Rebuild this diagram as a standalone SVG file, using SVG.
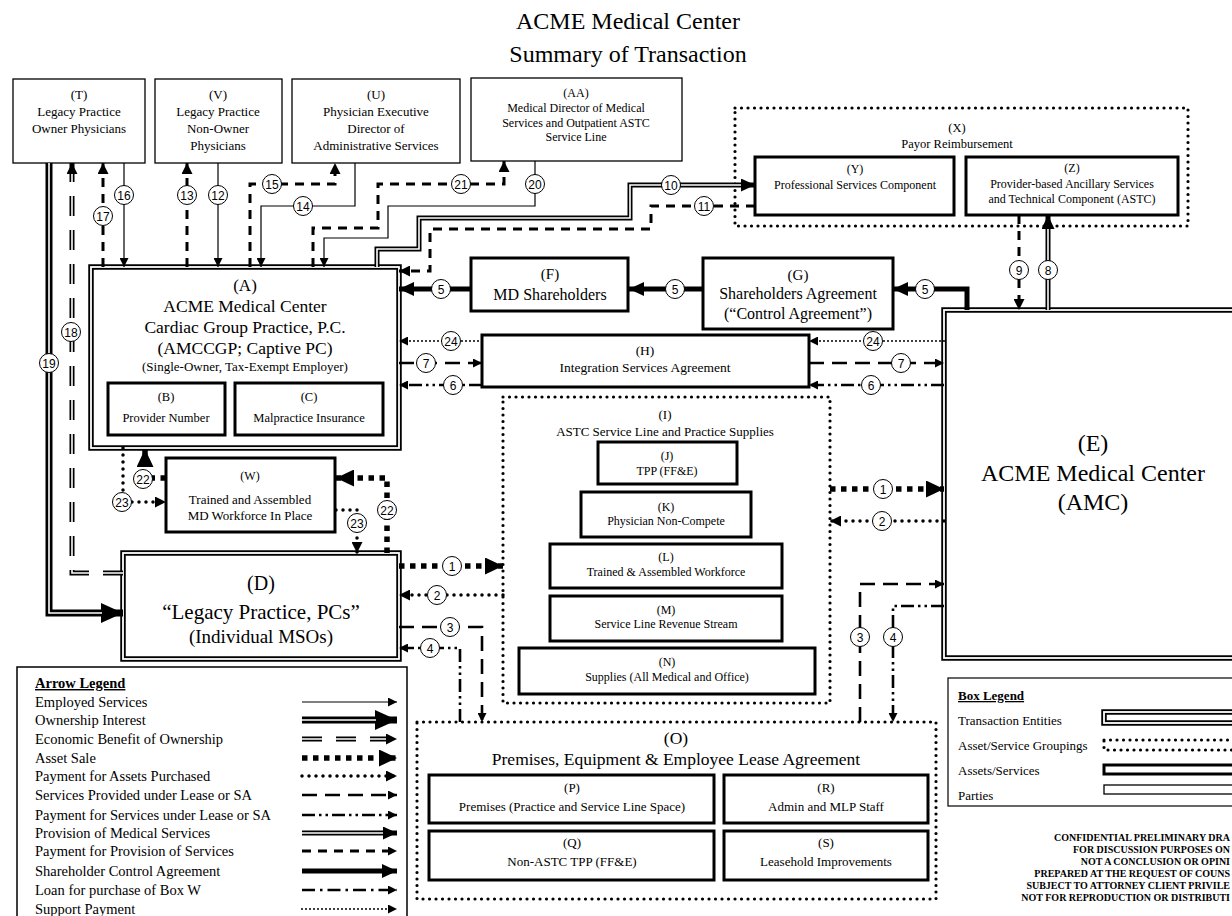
<svg xmlns="http://www.w3.org/2000/svg" width="1232" height="916" viewBox="0 0 1232 916">
<style>
text{font-family:"Liberation Serif","Times New Roman",serif;text-anchor:middle;fill:#000}
.n{font-family:"Liberation Sans",Arial,sans-serif;font-size:12px}
.lg{text-anchor:start;font-size:14.5px}
.bl{text-anchor:start;font-size:13px}
.cf{font-weight:bold;font-size:10px;text-anchor:end}
.party{fill:#fff;stroke:#000;stroke-width:1.3}
.asset{fill:#fff;stroke:#000;stroke-width:3}
.grp{fill:none;stroke:#000;stroke-width:3.2;stroke-dasharray:0 6.5;stroke-linecap:round}
.ent{fill:#fff;stroke:#000;stroke-width:5.5}
.entw{fill:none;stroke:#fff;stroke-width:1.8}
.nc{fill:#fff;stroke:#000;stroke-width:1}
.cn path{fill:none;stroke:#000}
.cn path.w{stroke:#fff}
.thin{stroke-width:1.2}
.pp{stroke-width:3;stroke-dasharray:9 7}
.ctl{stroke-width:5}
.sup{stroke-width:2;stroke-dasharray:0 4;stroke-linecap:round}
.pa{stroke-width:3.5;stroke-dasharray:0 7;stroke-linecap:round}
.as{stroke-width:5.5;stroke-dasharray:5.5 5.5}
.sl{stroke-width:2.6;stroke-dasharray:15 8}
.pl{stroke-width:2.6;stroke-dasharray:13 4 2.5 4 2.5 4}
.ln{stroke-width:2.6;stroke-dasharray:13 5 2.5 5}
.med{stroke-width:5}
.medw{stroke-width:1.6}
.own{stroke-width:7}
.ownw{stroke-width:1.6}
.ec{stroke-width:5;stroke-dasharray:20 14}
.ecw{stroke-width:1.6;stroke-dasharray:20 14}
</style>
<defs>
<marker id="ms" viewBox="0 0 10 10" refX="10" refY="5" markerWidth="9" markerHeight="9" markerUnits="userSpaceOnUse" orient="auto" preserveAspectRatio="none"><path d="M0,0L10,5L0,10z"/></marker>
<marker id="mm" viewBox="0 0 10 10" refX="10" refY="5" markerWidth="11" markerHeight="11" markerUnits="userSpaceOnUse" orient="auto" preserveAspectRatio="none"><path d="M0,0L10,5L0,10z"/></marker>
<marker id="mc" viewBox="0 0 10 10" refX="10" refY="5" markerWidth="15" markerHeight="14" markerUnits="userSpaceOnUse" orient="auto" preserveAspectRatio="none"><path d="M0,0L10,5L0,10z"/></marker>
<marker id="mas" viewBox="0 0 10 10" refX="10" refY="5" markerWidth="18" markerHeight="17" markerUnits="userSpaceOnUse" orient="auto" preserveAspectRatio="none"><path d="M0,0L10,5L0,10z"/></marker>
<marker id="mown" viewBox="0 0 10 10" refX="10" refY="5" markerWidth="22" markerHeight="20" markerUnits="userSpaceOnUse" orient="auto" preserveAspectRatio="none"><path d="M0,0L10,5L0,10z"/></marker>
<marker id="mmed" viewBox="0 0 10 10" refX="10" refY="5" markerWidth="14" markerHeight="13" markerUnits="userSpaceOnUse" orient="auto" preserveAspectRatio="none"><path d="M0,0L10,5L0,10z"/></marker>
</defs>
<rect width="1232" height="916" fill="#fff"/>
<g id="title">
<text x="628" y="29" font-size="24">ACME Medical Center</text>
<text x="628" y="62" font-size="24">Summary of Transaction</text>
</g>
<g id="node-X"><rect class="grp" x="735" y="108" width="453" height="118"/><text x="957" y="132" font-size="12.5">(X)</text><text x="957" y="148" font-size="12.5">Payor Reimbursement</text></g>
<g id="node-I"><rect class="grp" x="503" y="397" width="327" height="306"/><text x="665" y="419" font-size="13">(I)</text><text x="665" y="436" font-size="13">ASTC Service Line and Practice Supplies</text></g>
<g id="node-O"><rect class="grp" x="417" y="722" width="519" height="177"/><text x="676" y="744" font-size="17.5">(O)</text><text x="676" y="765" font-size="17.5">Premises, Equipment &amp; Employee Lease Agreement</text></g>
<g id="node-T"><rect class="party" x="13" y="79" width="132" height="84"/><text x="79" y="99" font-size="13">(T)</text><text x="79" y="116" font-size="13">Legacy Practice</text><text x="79" y="133" font-size="13">Owner Physicians</text></g>
<g id="node-V"><rect class="party" x="155" y="79" width="127" height="84"/><text x="218" y="99" font-size="13">(V)</text><text x="218" y="116" font-size="13">Legacy Practice</text><text x="218" y="133" font-size="13">Non-Owner</text><text x="218" y="150" font-size="13">Physicians</text></g>
<g id="node-U"><rect class="party" x="292" y="79" width="168" height="84"/><text x="376" y="99" font-size="13">(U)</text><text x="376" y="116" font-size="13">Physician Executive</text><text x="376" y="133" font-size="13">Director of</text><text x="376" y="150" font-size="13">Administrative Services</text></g>
<g id="node-AA"><rect class="party" x="471" y="78" width="211" height="83"/><text x="576" y="97" font-size="12">(AA)</text><text x="576" y="112" font-size="12">Medical Director of Medical</text><text x="576" y="127" font-size="12">Services and Outpatient ASTC</text><text x="576" y="141" font-size="12">Service Line</text></g>
<g id="node-Y"><rect class="asset" x="755" y="157" width="199" height="58"/><text x="855" y="173" font-size="12">(Y)</text><text x="855" y="189" font-size="12">Professional Services Component</text></g>
<g id="node-Z"><rect class="asset" x="966" y="157" width="212" height="58"/><text x="1072" y="172" font-size="12">(Z)</text><text x="1072" y="188" font-size="12">Provider-based Ancillary Services</text><text x="1072" y="203" font-size="12">and Technical Component (ASTC)</text></g>
<g id="node-A"><rect class="ent" x="91" y="267" width="308" height="181"/><rect class="entw" x="91" y="267" width="308" height="181"/><text x="245" y="291" font-size="17">(A)</text><text x="245" y="312" font-size="17.5">ACME Medical Center</text><text x="245" y="333" font-size="17.5">Cardiac Group Practice, P.C.</text><text x="245" y="354" font-size="17.5">(AMCCGP; Captive PC)</text><text x="245" y="371" font-size="13">(Single-Owner,  Tax-Exempt Employer)</text></g>
<g id="node-B"><rect class="asset" x="108" y="383" width="117" height="52"/><text x="166" y="401" font-size="12.5">(B)</text><text x="166" y="422" font-size="12.5">Provider Number</text></g>
<g id="node-C"><rect class="asset" x="235" y="383" width="148" height="52"/><text x="309" y="401" font-size="12.5">(C)</text><text x="309" y="422" font-size="12.5">Malpractice Insurance</text></g>
<g id="node-F"><rect class="asset" x="471" y="258" width="157" height="53"/><text x="550" y="279" font-size="15">(F)</text><text x="550" y="300" font-size="16">MD Shareholders</text></g>
<g id="node-G"><rect class="asset" x="703" y="258" width="190" height="71"/><text x="798" y="280" font-size="15">(G)</text><text x="798" y="299" font-size="16">Shareholders Agreement</text><text x="798" y="319" font-size="16">(“Control Agreement”)</text></g>
<g id="node-H"><rect class="asset" x="482" y="335" width="327" height="52"/><text x="645" y="355" font-size="13.5">(H)</text><text x="645" y="372" font-size="13.5">Integration Services Agreement</text></g>
<g id="node-E"><rect class="ent" x="944" y="310" width="330" height="348"/><rect class="entw" x="944" y="310" width="330" height="348"/><text x="1093" y="451" font-size="24">(E)</text><text x="1093" y="481" font-size="24">ACME Medical Center</text><text x="1093" y="510" font-size="24">(AMC)</text></g>
<g id="node-J"><rect class="asset" x="598" y="442" width="139" height="42"/><text x="667" y="460" font-size="12">(J)</text><text x="667" y="475" font-size="12">TPP (FF&amp;E)</text></g>
<g id="node-K"><rect class="asset" x="581" y="492" width="170" height="45"/><text x="666" y="511" font-size="12">(K)</text><text x="666" y="525" font-size="12">Physician Non-Compete</text></g>
<g id="node-L"><rect class="asset" x="550" y="544" width="232" height="44"/><text x="666" y="561" font-size="12">(L)</text><text x="666" y="576" font-size="12">Trained &amp; Assembled Workforce</text></g>
<g id="node-M"><rect class="asset" x="550" y="596" width="232" height="45"/><text x="666" y="614" font-size="12">(M)</text><text x="666" y="628" font-size="12">Service Line Revenue Stream</text></g>
<g id="node-N"><rect class="asset" x="519" y="648" width="296" height="46"/><text x="667" y="666" font-size="12">(N)</text><text x="667" y="681" font-size="12">Supplies (All Medical and Office)</text></g>
<g id="node-W"><rect class="asset" x="166" y="458" width="169" height="74"/><text x="250" y="480" font-size="12">(W)</text><text x="250" y="504" font-size="13">Trained and Assembled</text><text x="250" y="520" font-size="13">MD Workforce In Place</text></g>
<g id="node-D"><rect class="ent" x="123" y="553" width="276" height="106"/><rect class="entw" x="123" y="553" width="276" height="106"/><text x="261" y="590" font-size="20">(D)</text><text x="261" y="619" font-size="21">“Legacy Practice, PCs”</text><text x="261" y="643" font-size="19">(Individual MSOs)</text></g>
<g id="node-P"><rect class="asset" x="429" y="775" width="285" height="48"/><text x="572" y="792" font-size="13">(P)</text><text x="572" y="811" font-size="13">Premises (Practice and Service Line Space)</text></g>
<g id="node-R"><rect class="asset" x="724" y="775" width="204" height="48"/><text x="826" y="792" font-size="13">(R)</text><text x="826" y="811" font-size="13">Admin and MLP Staff</text></g>
<g id="node-Q"><rect class="asset" x="429" y="831" width="285" height="49"/><text x="572" y="847" font-size="13">(Q)</text><text x="572" y="866" font-size="13">Non-ASTC TPP (FF&amp;E)</text></g>
<g id="node-S"><rect class="asset" x="724" y="831" width="204" height="49"/><text x="826" y="847" font-size="13">(S)</text><text x="826" y="866" font-size="13">Leasehold Improvements</text></g>

<g id="connectors" class="cn">
<path class="thin" d="M124,163V267" marker-end="url(#ms)"/>
<path class="pp" d="M103,267V163" marker-end="url(#mm)"/>
<path class="pp" d="M187,267V163" marker-end="url(#mm)"/>
<path class="thin" d="M218,163V267" marker-end="url(#ms)"/>
<path class="pp" d="M250,267V184H335V163" marker-end="url(#mm)"/>
<path class="thin" d="M355,163V206H261V267" marker-end="url(#ms)"/>
<path class="pp" d="M313,267V228H378V184H504V161" marker-end="url(#mm)"/>
<path class="thin" d="M535,161V206H388V238H324V267" marker-end="url(#ms)"/>
<path class="med" d="M377,267V249H419V218H630V185H755" marker-end="url(#mmed)"/>
<path class="w medw" d="M377,267V249H419V218H630V185H741"/>
<path class="pp" d="M755,206H651V229H430V271H399" marker-end="url(#mm)"/>
<path class="ec" d="M123,573H72V163" marker-end="url(#mm)"/>
<path class="w ecw" d="M123,573H72V174"/>
<path class="own" d="M49,163V613H123" marker-end="url(#mown)"/>
<path class="w ownw" d="M49,163V613H102"/>
<path class="ctl" d="M471,289H399" marker-end="url(#mc)"/>
<path class="ctl" d="M703,289H629" marker-end="url(#mc)"/>
<path class="ctl" d="M967,310V289H893" marker-end="url(#mc)"/>
<path class="sup" d="M482,341H399" marker-end="url(#ms)"/>
<path class="sup" d="M944,341H809" marker-end="url(#ms)"/>
<path class="sl" d="M399,363H482" marker-end="url(#ms)"/>
<path class="sl" d="M809,363H944" marker-end="url(#ms)"/>
<path class="pl" d="M482,385H399" marker-end="url(#ms)"/>
<path class="pl" d="M944,385H809" marker-end="url(#ms)"/>
<path class="as" d="M166,478H145V449" marker-end="url(#mas)"/>
<path class="pa" d="M123,448V502H166" marker-end="url(#mm)"/>
<path class="as" d="M387,553V478H336" marker-end="url(#mas)"/>
<path class="pa" d="M336,510H357V553" marker-end="url(#mm)"/>
<path class="as" d="M399,566H503" marker-end="url(#mas)"/>
<path class="pa" d="M503,595H399" marker-end="url(#mm)"/>
<path class="sl" d="M399,627H482V722" marker-end="url(#ms)"/>
<path class="pl" d="M460,722V648H399" marker-end="url(#ms)"/>
<path class="as" d="M830,489H944" marker-end="url(#mas)"/>
<path class="pa" d="M944,521H830" marker-end="url(#mm)"/>
<path class="sl" d="M860,722V584H944" marker-end="url(#ms)"/>
<path class="pl" d="M944,606H893V722" marker-end="url(#ms)"/>
<path class="pp" d="M1019,215V310" marker-end="url(#mm)"/>
<path class="med" d="M1048,310V215" marker-end="url(#mmed)"/>
<path class="w medw" d="M1048,310V229"/>
</g>
<g id="labels">
<circle class="nc" cx="124" cy="195" r="9.5"/><text class="n" x="124" y="199.5">16</text>
<circle class="nc" cx="103" cy="216" r="9.5"/><text class="n" x="103" y="220.5">17</text>
<circle class="nc" cx="187" cy="195" r="9.5"/><text class="n" x="187" y="199.5">13</text>
<circle class="nc" cx="218" cy="195" r="9.5"/><text class="n" x="218" y="199.5">12</text>
<circle class="nc" cx="272" cy="184" r="9.5"/><text class="n" x="272" y="188.5">15</text>
<circle class="nc" cx="303" cy="206" r="9.5"/><text class="n" x="303" y="210.5">14</text>
<circle class="nc" cx="461" cy="184" r="9.5"/><text class="n" x="461" y="188.5">21</text>
<circle class="nc" cx="535" cy="184" r="9.5"/><text class="n" x="535" y="188.5">20</text>
<circle class="nc" cx="671" cy="185" r="9.5"/><text class="n" x="671" y="189.5">10</text>
<circle class="nc" cx="704" cy="206" r="9.5"/><text class="n" x="704" y="210.5">11</text>
<circle class="nc" cx="71" cy="332" r="9.5"/><text class="n" x="71" y="336.5">18</text>
<circle class="nc" cx="49" cy="363" r="9.5"/><text class="n" x="49" y="367.5">19</text>
<circle class="nc" cx="441" cy="289" r="9.5"/><text class="n" x="441" y="293.5">5</text>
<circle class="nc" cx="675" cy="289" r="9.5"/><text class="n" x="675" y="293.5">5</text>
<circle class="nc" cx="925" cy="289" r="9.5"/><text class="n" x="925" y="293.5">5</text>
<circle class="nc" cx="451" cy="341" r="9.5"/><text class="n" x="451" y="345.5">24</text>
<circle class="nc" cx="873" cy="341" r="9.5"/><text class="n" x="873" y="345.5">24</text>
<circle class="nc" cx="426" cy="363" r="9.5"/><text class="n" x="426" y="367.5">7</text>
<circle class="nc" cx="901" cy="363" r="9.5"/><text class="n" x="901" y="367.5">7</text>
<circle class="nc" cx="453" cy="385" r="9.5"/><text class="n" x="453" y="389.5">6</text>
<circle class="nc" cx="871" cy="385" r="9.5"/><text class="n" x="871" y="389.5">6</text>
<circle class="nc" cx="143" cy="479" r="9.5"/><text class="n" x="143" y="483.5">22</text>
<circle class="nc" cx="122" cy="502" r="9.5"/><text class="n" x="122" y="506.5">23</text>
<circle class="nc" cx="387" cy="510" r="9.5"/><text class="n" x="387" y="514.5">22</text>
<circle class="nc" cx="357" cy="523" r="9.5"/><text class="n" x="357" y="527.5">23</text>
<circle class="nc" cx="452" cy="566" r="9.5"/><text class="n" x="452" y="570.5">1</text>
<circle class="nc" cx="437" cy="595" r="9.5"/><text class="n" x="437" y="599.5">2</text>
<circle class="nc" cx="450" cy="627" r="9.5"/><text class="n" x="450" y="631.5">3</text>
<circle class="nc" cx="430" cy="648" r="9.5"/><text class="n" x="430" y="652.5">4</text>
<circle class="nc" cx="883" cy="489" r="9.5"/><text class="n" x="883" y="493.5">1</text>
<circle class="nc" cx="882" cy="521" r="9.5"/><text class="n" x="882" y="525.5">2</text>
<circle class="nc" cx="860" cy="637" r="9.5"/><text class="n" x="860" y="641.5">3</text>
<circle class="nc" cx="893" cy="637" r="9.5"/><text class="n" x="893" y="641.5">4</text>
<circle class="nc" cx="1019" cy="270" r="9.5"/><text class="n" x="1019" y="274.5">9</text>
<circle class="nc" cx="1048" cy="270" r="9.5"/><text class="n" x="1048" y="274.5">8</text>
</g>
<g id="arrow-legend">
<rect x="17" y="667" width="390" height="270" fill="#fff" stroke="#000" stroke-width="1.5"/>
<text class="lg" x="35" y="688" font-weight="bold" text-decoration="underline">Arrow Legend</text>
<text class="lg" x="35" y="707">Employed Services</text>
<text class="lg" x="35" y="725">Ownership Interest</text>
<text class="lg" x="35" y="744">Economic Benefit of Ownership</text>
<text class="lg" x="35" y="763">Asset Sale</text>
<text class="lg" x="35" y="781">Payment for Assets Purchased</text>
<text class="lg" x="35" y="800">Services Provided under Lease or SA</text>
<text class="lg" x="35" y="820">Payment for Services under Lease or SA</text>
<text class="lg" x="35" y="838">Provision of Medical Services</text>
<text class="lg" x="35" y="856">Payment for Provision of Services</text>
<text class="lg" x="35" y="876">Shareholder Control Agreement</text>
<text class="lg" x="35" y="895">Loan for purchase of Box W</text>
<text class="lg" x="35" y="914">Support Payment</text>
<g class="cn">
<path class="thin" d="M302,702H397" marker-end="url(#ms)"/>
<path class="own" d="M302,720H397" marker-end="url(#mown)"/>
<path class="w ownw" d="M302,720H376"/>
<path class="ec" d="M302,739H397" marker-end="url(#mm)"/>
<path class="w ecw" d="M302,739H386"/>
<path class="as" d="M302,758H397" marker-end="url(#mas)"/>
<path class="pa" d="M302,776H397" marker-end="url(#mm)"/>
<path class="sl" d="M302,795H397" marker-end="url(#ms)"/>
<path class="pl" d="M302,815H397" marker-end="url(#ms)"/>
<path class="med" d="M302,833H397" marker-end="url(#mmed)"/>
<path class="w medw" d="M302,833H383"/>
<path class="pp" d="M302,851H397" marker-end="url(#ms)"/>
<path class="ctl" d="M302,871H397" marker-end="url(#mc)"/>
<path class="ln" d="M302,890H397" marker-end="url(#ms)"/>
<path class="sup" d="M302,909H397" marker-end="url(#ms)"/>
</g>
</g>
<g id="box-legend">
<rect x="948" y="678" width="300" height="128" fill="#fff" stroke="#000" stroke-width="1.2"/>
<text class="bl" x="958" y="700" font-weight="bold" text-decoration="underline">Box Legend</text>
<text class="bl" x="958" y="725">Transaction Entities</text>
<text class="bl" x="958" y="750">Asset/Service Groupings</text>
<text class="bl" x="958" y="775">Assets/Services</text>
<text class="bl" x="958" y="800">Parties</text>
<rect class="ent" x="1104" y="712" width="140" height="11" stroke-width="4.5"/><rect class="entw" x="1104" y="712" width="140" height="11" stroke-width="1.5"/>
<rect class="grp" x="1104" y="740" width="140" height="10" stroke-width="2.6" stroke-dasharray="0 5.5"/>
<rect class="asset" x="1104" y="765" width="140" height="9"/>
<rect class="party" x="1104" y="785" width="140" height="9" stroke-width="1"/>
</g>
<g id="confidential">
<text class="cf" x="1230" y="841">CONFIDENTIAL PRELIMINARY DRA</text>
<text class="cf" x="1230" y="853">FOR DISCUSSION PURPOSES ON</text>
<text class="cf" x="1230" y="865">NOT A CONCLUSION OR OPINI</text>
<text class="cf" x="1230" y="877">PREPARED AT THE REQUEST OF COUNS</text>
<text class="cf" x="1230" y="889">SUBJECT TO ATTORNEY CLIENT PRIVILE</text>
<text class="cf" x="1230" y="901">NOT FOR REPRODUCTION OR DISTRIBUTI</text>
</g>
</svg>
